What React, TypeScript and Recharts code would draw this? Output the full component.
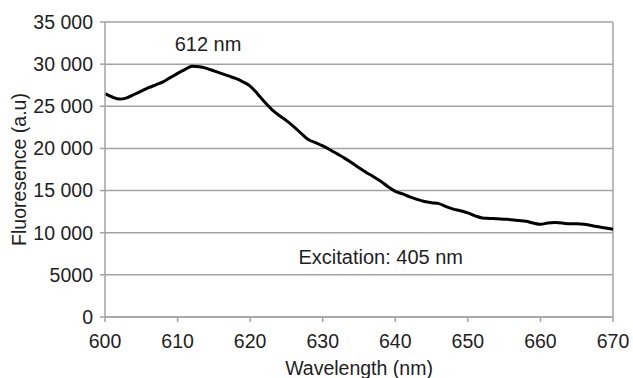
import React from "react";
import {
  LineChart,
  Line,
  XAxis,
  YAxis,
  CartesianGrid,
  ReferenceLine,
  ReferenceDot,
} from "recharts";

// wavelength (nm) and fluorescence intensity (a.u)
const wavelengths = [
  600, 601, 602, 603, 604, 605, 606, 607, 608, 609,
  610, 611, 612, 613, 614, 615, 616, 617, 618, 619,
  620, 621, 622, 623, 624, 625, 626, 627, 628, 629,
  630, 631, 632, 633, 634, 635, 636, 637, 638, 639,
  640, 641, 642, 643, 644, 645, 646, 647, 648, 649,
  650, 651, 652, 653, 654, 655, 656, 657, 658, 659,
  660, 661, 662, 663, 664, 665, 666, 667, 668, 669, 670,
];
const fluorescence = [
  26500, 26100, 25850, 26000, 26400, 26800, 27200, 27550, 27900, 28400,
  28900, 29350, 29750, 29700, 29500, 29200, 28900, 28600, 28300, 27900,
  27400, 26500, 25500, 24600, 23900, 23300, 22600, 21800, 21050, 20700,
  20300, 19850, 19350, 18850, 18300, 17700, 17150, 16650, 16100, 15450,
  14900, 14600, 14250, 13950, 13700, 13550, 13450, 13100, 12800, 12600,
  12350, 12000, 11750, 11700, 11650, 11600, 11550, 11450, 11350, 11150,
  11000, 11150, 11200, 11150, 11050, 11050, 11000, 10850, 10700, 10550, 10400,
];

const xTicks = [600, 610, 620, 630, 640, 650, 660, 670];
const yTicks = [0, 5000, 10000, 15000, 20000, 25000, 30000, 35000];

const peakNote = { x: 614.2, y: 32450, text: "612 nm" };
const excitationNote = { x: 638, y: 7100, text: "Excitation: 405 nm" };

const data = wavelengths.map((w, i) => ({ w, f: fluorescence[i] }));

const FONT = "'Liberation Sans', Arial, Helvetica, sans-serif";
const GRID = "#a3a3a3";
const TEXT = "#1e1e1e";
const FS = 19.5;

const formatY = (v: number) =>
  v >= 10000 ? `${Math.floor(v / 1000)} ${String(v % 1000).padStart(3, "0")}` : String(v);

export default function App() {
  return (
    <div style={{ position: "absolute", left: 0, top: 0, background: "#fff" }}>
      <LineChart
        width={633}
        height={378}
        data={data}
        margin={{ top: 22, right: 20, left: 0, bottom: 0 }}
        style={{ fontFamily: FONT }}
      >
        <CartesianGrid vertical={false} stroke={GRID} strokeWidth={1.5} />
        <XAxis
          dataKey="w"
          type="number"
          domain={[600, 670]}
          ticks={xTicks}
          height={61}
          tickSize={5}
          tickMargin={12}
          axisLine={{ stroke: GRID, strokeWidth: 1.5 }}
          tickLine={{ stroke: GRID, strokeWidth: 1.5 }}
          tick={{ fontSize: FS, fill: TEXT }}
          label={{
            value: "Wavelength (nm)",
            position: "insideBottom",
            offset: 3,
            style: { fontSize: FS, fill: TEXT },
          }}
        />
        <YAxis
          type="number"
          domain={[0, 35000]}
          ticks={yTicks}
          width={105}
          tickSize={5}
          tickMargin={7}
          tickFormatter={formatY}
          axisLine={{ stroke: GRID, strokeWidth: 1.5 }}
          tickLine={{ stroke: GRID, strokeWidth: 1.5 }}
          tick={{ fontSize: FS, fill: TEXT }}
          label={{
            value: "Fluoresence (a.u)",
            angle: -90,
            position: "insideLeft",
            offset: 19,
            style: { fontSize: FS, fill: TEXT, textAnchor: "middle" },
          }}
        />
        <ReferenceLine x={670} stroke={GRID} strokeWidth={1.5} />
        <Line
          type="monotone"
          dataKey="f"
          stroke="#000"
          strokeWidth={3}
          dot={false}
          isAnimationActive={false}
        />
        <ReferenceDot
          x={peakNote.x}
          y={peakNote.y}
          r={0}
          stroke="none"
          fill="none"
          label={{ value: peakNote.text, position: "center", style: { fontSize: 20, fill: TEXT } }}
        />
        <ReferenceDot
          x={excitationNote.x}
          y={excitationNote.y}
          r={0}
          stroke="none"
          fill="none"
          label={{ value: excitationNote.text, position: "center", style: { fontSize: 20, fill: TEXT } }}
        />
      </LineChart>
    </div>
  );
}
